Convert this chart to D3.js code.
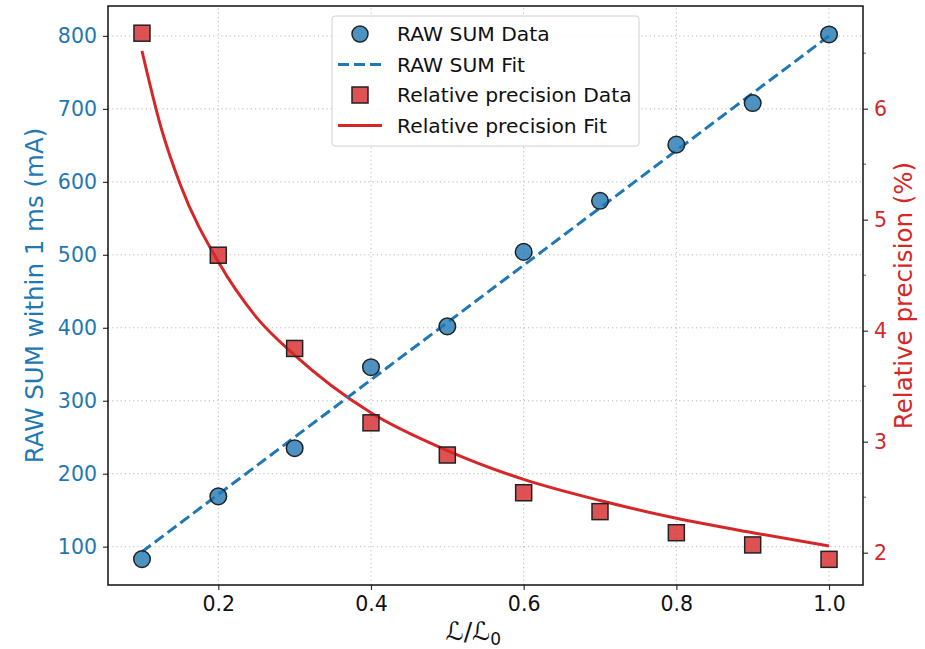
<!DOCTYPE html>
<html>
<head>
<meta charset="utf-8">
<script src="https://cdn.jsdelivr.net/npm/d3@7"></script>
<style>
  body { margin: 0; background: #fff; }
  text { font-family: "DejaVu Sans", sans-serif; }
</style>
</head>
<body>
<svg width="925" height="649"></svg>
<script>
var svg = d3.select("svg");
var width = +svg.attr("width");
var height = +svg.attr("height");

// data
var lumi = [0.1, 0.2, 0.3, 0.4, 0.5, 0.6, 0.7, 0.8, 0.9, 1.0];
var rawSum = [83, 169, 235, 346, 402, 504, 574, 651, 708, 802];
var relPrec = [6.68, 4.68, 3.84, 3.17, 2.88, 2.54, 2.37, 2.18, 2.07, 1.94];

// fit curves
var rawFitX = [0.1, 1.0];
var rawFitY = [93, 800];
var precFitX = [0.1, 0.125, 0.15, 0.2, 0.25, 0.3, 0.4, 0.5, 0.6, 0.7, 0.8, 0.9, 1.0];
var precFitY = [6.52, 5.83, 5.32, 4.62, 4.12, 3.78, 3.26, 2.92, 2.66, 2.47, 2.31, 2.18, 2.06];

var xTicks = [0.2, 0.4, 0.6, 0.8, 1.0];
var yLeftTicks = [100, 200, 300, 400, 500, 600, 700, 800];
var yRightTicks = [2, 3, 4, 5, 6];
var yRightMinor = [2.5, 3.5, 4.5, 5.5, 6.5];

var blue = "#1f77b4";
var red = "#d62728";

var margin = {left: 108, right: 62, top: 6, bottom: 64};
var x0 = margin.left, x1 = width - margin.right;
var y0 = height - margin.bottom, y1 = margin.top;

var x = d3.scaleLinear().domain([0.0555, 1.0445]).range([x0, x1]);
var yL = d3.scaleLinear().domain([47.5, 841]).range([y0, y1]);
var yR = d3.scaleLinear().domain([1.709, 6.925]).range([y0, y1]);

// grid
var grid = svg.append("g").attr("class", "grid");
grid.selectAll(".gx").data(xTicks).enter().append("line")
    .attr("x1", function(d) { return x(d); })
    .attr("x2", function(d) { return x(d); })
    .attr("y1", y0).attr("y2", y1)
    .attr("stroke", "#b0b0b0").attr("stroke-width", 0.9)
    .attr("stroke-dasharray", "1.2,3");
grid.selectAll(".gy").data(yLeftTicks).enter().append("line")
    .attr("x1", x0).attr("x2", x1)
    .attr("y1", function(d) { return yL(d); })
    .attr("y2", function(d) { return yL(d); })
    .attr("stroke", "#b0b0b0").attr("stroke-width", 0.9)
    .attr("stroke-dasharray", "1.2,3");

// axes
var xAxis = svg.append("g")
    .attr("transform", "translate(0," + y0 + ")")
    .call(d3.axisBottom(x).tickValues(xTicks).tickFormat(d3.format(".1f")).tickSizeOuter(0).tickSize(5).tickPadding(6));
var yAxisL = svg.append("g")
    .attr("transform", "translate(" + x0 + ",0)")
    .call(d3.axisLeft(yL).tickValues(yLeftTicks).tickSizeOuter(0).tickSize(5).tickPadding(6));
var yAxisR = svg.append("g")
    .attr("transform", "translate(" + x1 + ",0)")
    .call(d3.axisRight(yR).tickValues(yRightTicks).tickFormat(d3.format("d")).tickSizeOuter(0).tickSize(5).tickPadding(6));
svg.append("g")
    .attr("transform", "translate(" + x1 + ",0)")
    .selectAll("line").data(yRightMinor.filter(function(d) { return yR(d) > y1; }))
    .enter().append("line")
    .attr("x1", 0).attr("x2", 3)
    .attr("y1", function(d) { return yR(d); })
    .attr("y2", function(d) { return yR(d); })
    .attr("stroke", "#333").attr("stroke-width", 0.8);

[xAxis, yAxisL, yAxisR].forEach(function(a) {
    a.select(".domain").remove();
    a.selectAll("text").style("font-size", "20.5px").style("font-family", "DejaVu Sans");
    a.selectAll("line").attr("stroke", "#333").attr("stroke-width", 1.2);
});
xAxis.selectAll("text").attr("fill", "#111");
yAxisL.selectAll("text").attr("fill", blue);
yAxisR.selectAll("text").attr("fill", red);

// frame
svg.append("rect")
    .attr("x", x0).attr("y", y1)
    .attr("width", x1 - x0).attr("height", y0 - y1)
    .attr("fill", "none").attr("stroke", "#111").attr("stroke-width", 1.5);

// axis labels
svg.append("text")
    .attr("transform", "translate(36," + ((y0 + y1) / 2) + ") rotate(-90)")
    .attr("text-anchor", "middle").attr("dominant-baseline", "middle")
    .attr("fill", blue).style("font-size", "24.5px")
    .text("RAW SUM within 1 ms (mA)");
svg.append("text")
    .attr("transform", "translate(905," + ((y0 + y1) / 2) + ") rotate(-90)")
    .attr("text-anchor", "middle").attr("dominant-baseline", "middle")
    .attr("fill", red).style("font-size", "24.5px")
    .text("Relative precision (%)");
var xl = svg.append("text")
    .attr("x", (x0 + x1) / 2 - 12).attr("y", 640)
    .attr("text-anchor", "middle").attr("fill", "#111")
    .style("font-size", "25px");
xl.append("tspan").text("\u2112/\u2112");
xl.append("tspan").attr("dy", 5).style("font-size", "17px").text("0");

// lines
var plot = svg.append("g");
var rawFit = rawFitX.map(function(d, i) { return [d, rawFitY[i]]; });
var precFit = precFitX.map(function(d, i) { return [d, precFitY[i]]; });

plot.append("path")
    .datum(precFit)
    .attr("d", d3.line().curve(d3.curveMonotoneX)
        .x(function(d) { return x(d[0]); })
        .y(function(d) { return yR(d[1]); }))
    .attr("fill", "none").attr("stroke", red).attr("stroke-width", 3);

plot.append("path")
    .datum(rawFit)
    .attr("d", d3.line()
        .x(function(d) { return x(d[0]); })
        .y(function(d) { return yL(d[1]); }))
    .attr("fill", "none").attr("stroke", blue).attr("stroke-width", 3)
    .attr("stroke-dasharray", "11,5");

// markers
plot.selectAll(".sq").data(lumi).enter().append("rect")
    .attr("x", function(d) { return x(d) - 8; })
    .attr("y", function(d, i) { return yR(relPrec[i]) - 8; })
    .attr("width", 16).attr("height", 16)
    .attr("fill", red).attr("fill-opacity", 0.8)
    .attr("stroke", "#222").attr("stroke-width", 1.5);

plot.selectAll(".ci").data(lumi).enter().append("circle")
    .attr("cx", function(d) { return x(d); })
    .attr("cy", function(d, i) { return yL(rawSum[i]); })
    .attr("r", 8.3)
    .attr("fill", blue).attr("fill-opacity", 0.8)
    .attr("stroke", "#222").attr("stroke-width", 1.5);

// legend
var legendItems = ["RAW SUM Data", "RAW SUM Fit", "Relative precision Data", "Relative precision Fit"];
var leg = svg.append("g");
leg.append("rect")
    .attr("x", 332).attr("y", 16).attr("width", 307).attr("height", 130)
    .attr("rx", 3).attr("fill", "#fff").attr("fill-opacity", 0.85)
    .attr("stroke", "#d0d0d0").attr("stroke-width", 1);
var rowY = d3.scalePoint().domain(legendItems).range([34, 125.5]);
leg.selectAll(".lt").data(legendItems).enter().append("text")
    .attr("x", 397).attr("y", function(d) { return rowY(d); })
    .attr("dominant-baseline", "central")
    .attr("fill", "#111").style("font-size", "20.3px")
    .text(function(d) { return d; });
leg.append("circle")
    .attr("cx", 360).attr("cy", rowY(legendItems[0])).attr("r", 8)
    .attr("fill", blue).attr("fill-opacity", 0.8)
    .attr("stroke", "#222").attr("stroke-width", 1.5);
leg.append("line")
    .attr("x1", 338).attr("x2", 382)
    .attr("y1", rowY(legendItems[1])).attr("y2", rowY(legendItems[1]))
    .attr("stroke", blue).attr("stroke-width", 3).attr("stroke-dasharray", "11,5");
leg.append("rect")
    .attr("x", 352).attr("y", rowY(legendItems[2]) - 8).attr("width", 16).attr("height", 16)
    .attr("fill", red).attr("fill-opacity", 0.8)
    .attr("stroke", "#222").attr("stroke-width", 1.5);
leg.append("line")
    .attr("x1", 338).attr("x2", 382)
    .attr("y1", rowY(legendItems[3])).attr("y2", rowY(legendItems[3]))
    .attr("stroke", red).attr("stroke-width", 3);
</script>
</body>
</html>
